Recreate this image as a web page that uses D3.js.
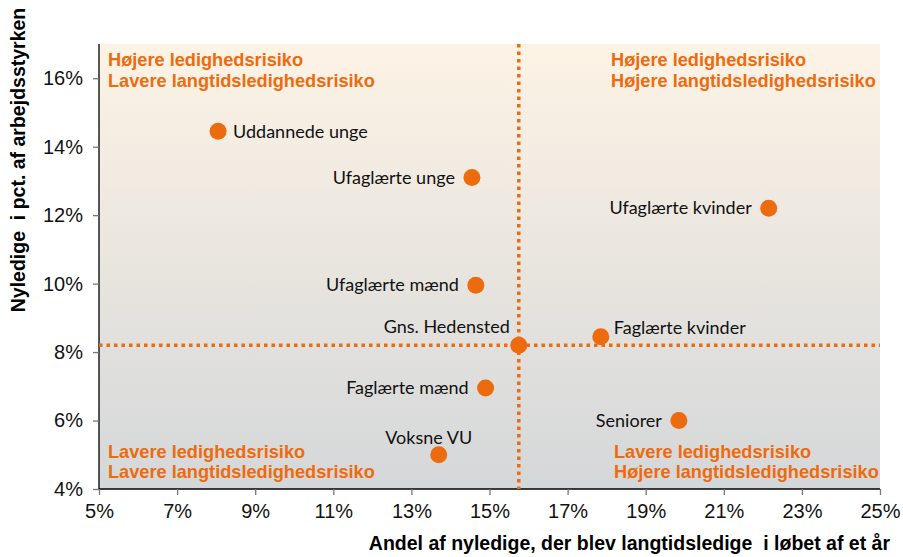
<!DOCTYPE html>
<html>
<head>
<meta charset="utf-8">
<script src="https://cdn.jsdelivr.net/npm/d3@7"></script>
<style>
  body { margin: 0; background: #fff; }
  text { font-family: "Liberation Sans", Arial, sans-serif; }
</style>
</head>
<body>
<svg width="903" height="557"></svg>
<script>
const svg = d3.select('svg');

// data
const groups = ['Uddannede unge', 'Ufaglærte unge', 'Ufaglærte kvinder', 'Ufaglærte mænd',
  'Gns. Hedensted', 'Faglærte kvinder', 'Faglærte mænd', 'Seniorer', 'Voksne VU'];
const langtid = [8.05, 14.55, 22.15, 14.65, 15.75, 17.85, 14.9, 19.85, 13.7];
const nyledige = [14.45, 13.1, 12.2, 9.95, 8.2, 8.45, 6.95, 6.0, 5.0];
const xTicks = [5, 7, 9, 11, 13, 15, 17, 19, 21, 23, 25];
const yTicks = [4, 6, 8, 10, 12, 14, 16];
const avgX = 15.75;
const avgY = 8.2;
const quadrants = [
  ['Højere ledighedsrisiko', 'Lavere langtidsledighedsrisiko'],
  ['Højere ledighedsrisiko', 'Højere langtidsledighedsrisiko'],
  ['Lavere ledighedsrisiko', 'Lavere langtidsledighedsrisiko'],
  ['Lavere ledighedsrisiko', 'Højere langtidsledighedsrisiko']
];

const orange = '#ED6B0F';

const margin = { top: 44, right: 23, bottom: 68, left: 99 };
const innerWidth = 903 - margin.left - margin.right;
const innerHeight = 557 - margin.top - margin.bottom;

const g = svg.append('g')
  .attr('transform', `translate(${margin.left},${margin.top})`);

const x = d3.scaleLinear().domain([5, 25]).range([0, innerWidth]);
const y = d3.scaleLinear().domain([4, 17]).range([innerHeight, 0]);

// background gradient
const grad = svg.append('defs').append('linearGradient')
  .attr('id', 'bg').attr('x1', 0).attr('y1', 0).attr('x2', 0).attr('y2', 1);
grad.append('stop').attr('offset', '0%').attr('stop-color', '#FDF3E5');
grad.append('stop').attr('offset', '100%').attr('stop-color', '#D4D7D9');

g.append('rect')
  .attr('width', innerWidth).attr('height', innerHeight)
  .attr('fill', 'url(#bg)');

// axes
const yAxis = g.append('g')
  .call(d3.axisLeft(y).tickValues(yTicks).tickFormat(d => d + '%').tickSize(6).tickPadding(10));
const xAxis = g.append('g')
  .attr('transform', `translate(0,${innerHeight})`)
  .call(d3.axisBottom(x).tickValues(xTicks).tickFormat(d => d + '%').tickSize(6).tickPadding(9));

[yAxis, xAxis].forEach(a => {
  a.select('.domain').attr('stroke', '#000').attr('stroke-width', 1.3);
  a.selectAll('.tick line').attr('stroke', '#777').attr('stroke-width', 1.3);
  a.selectAll('.tick text')
    .attr('font-family', '"Liberation Sans", Arial, sans-serif')
    .attr('font-size', 20).attr('fill', '#111');
});
yAxis.select('.domain').attr('d', `M0,0V${innerHeight}`);
xAxis.select('.domain').attr('d', `M0,0H${innerWidth}`);

// average lines
g.append('line')
  .attr('x1', 0).attr('x2', innerWidth)
  .attr('y1', y(avgY)).attr('y2', y(avgY))
  .attr('stroke', orange).attr('stroke-width', 3.5)
  .attr('stroke-dasharray', '3.5,4');
g.append('line')
  .attr('x1', x(avgX)).attr('x2', x(avgX))
  .attr('y1', 0).attr('y2', innerHeight)
  .attr('stroke', orange).attr('stroke-width', 3.5)
  .attr('stroke-dasharray', '3.5,4');

// quadrant labels
const quadPos = [
  { x: 9, y: 22 }, { x: 512, y: 22 },
  { x: 9, y: 413.5 }, { x: 515, y: 413.5 }
];
quadrants.forEach((lines, i) => {
  const t = g.append('text')
    .attr('x', quadPos[i].x).attr('y', quadPos[i].y)
    .attr('fill', orange)
    .attr('font-weight', 'bold')
    .attr('font-size', 18.2);
  lines.forEach((l, j) => {
    t.append('tspan').attr('x', quadPos[i].x).attr('dy', j === 0 ? 0 : 20.5).text(l);
  });
});

// points
const points = groups.map((name, i) => ({ name, x: langtid[i], y: nyledige[i] }));

g.selectAll('circle').data(points).enter()
  .append('circle')
  .attr('cx', d => x(d.x))
  .attr('cy', d => y(d.y))
  .attr('r', 8.5)
  .attr('fill', orange);

// label placement
const labelPos = {
  'Uddannede unge': { dx: 15, dy: 7, anchor: 'start' },
  'Ufaglærte unge': { dx: -17, dy: 6, anchor: 'end' },
  'Ufaglærte kvinder': { dx: -17, dy: 6, anchor: 'end' },
  'Ufaglærte mænd': { dx: -17, dy: 6, anchor: 'end' },
  'Gns. Hedensted': { dx: -9, dy: -12, anchor: 'end' },
  'Faglærte kvinder': { dx: 13, dy: -3, anchor: 'start' },
  'Faglærte mænd': { dx: -17, dy: 6, anchor: 'end' },
  'Seniorer': { dx: -17, dy: 6, anchor: 'end' },
  'Voksne VU': { dx: -10, dy: -11, anchor: 'middle' }
};

g.selectAll('.lbl').data(points).enter()
  .append('text')
  .attr('class', 'lbl')
  .attr('x', d => x(d.x) + labelPos[d.name].dx)
  .attr('y', d => y(d.y) + labelPos[d.name].dy)
  .attr('text-anchor', d => labelPos[d.name].anchor)
  .style('font-family', 'Lato, "Open Sans", sans-serif')
  .attr('font-size', 18)
  .attr('fill', '#111')
  .text(d => d.name);

// axis titles
svg.append('text')
  .attr('transform', 'translate(25,160) rotate(-90)')
  .attr('text-anchor', 'middle')
  .attr('font-weight', 'bold')
  .attr('font-size', 19.5)
  .attr('fill', '#000')
  .attr('xml:space', 'preserve')
  .text('Nyledige  i pct. af arbejdsstyrken');

svg.append('text')
  .attr('x', 890).attr('y', 550)
  .attr('text-anchor', 'end')
  .attr('font-weight', 'bold')
  .attr('font-size', 19.5)
  .attr('fill', '#000')
  .attr('xml:space', 'preserve')
  .text('Andel af nyledige, der blev langtidsledige  i løbet af et år');
</script>
</body>
</html>
